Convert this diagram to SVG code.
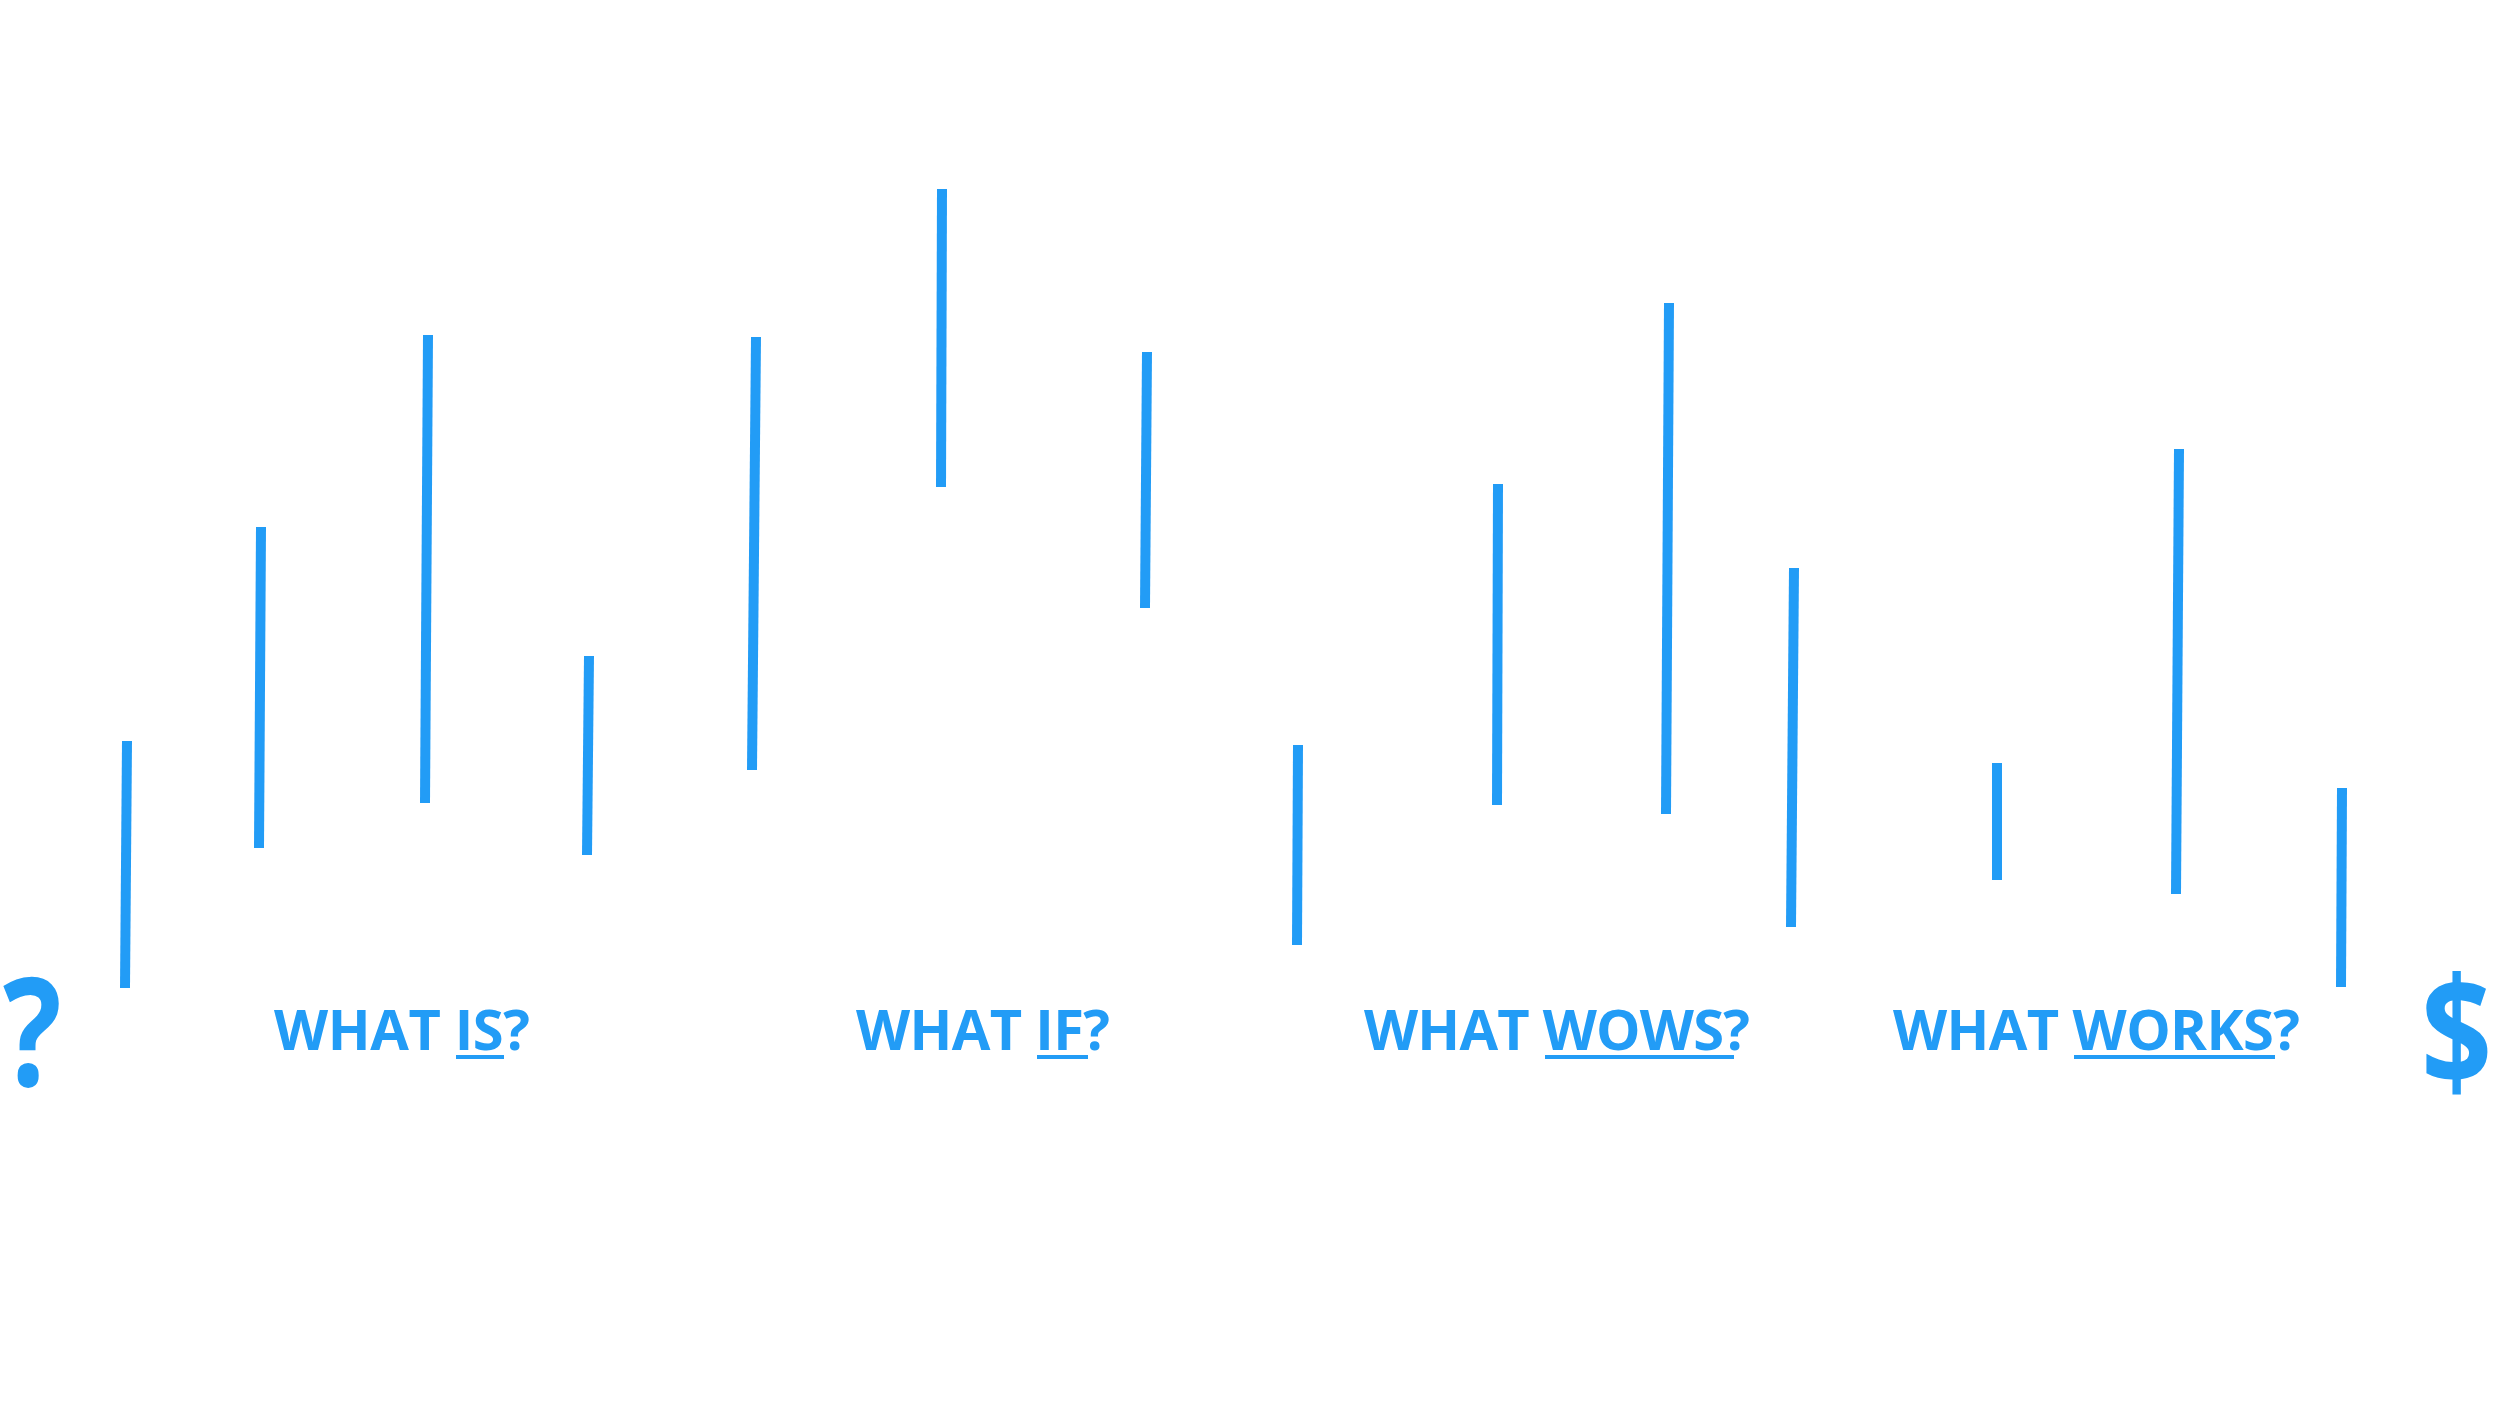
<svg xmlns="http://www.w3.org/2000/svg" width="2500" height="1418" viewBox="0 0 2500 1418">
<style>
.bar{stroke:#229CF6;stroke-width:10;stroke-linecap:butt;fill:none}
.lbl{font-family:"Open Sans","Liberation Sans",sans-serif;font-weight:700;font-size:56px;fill:#229CF6}
.big{font-family:"Open Sans","Liberation Sans",sans-serif;font-weight:700;font-size:150px;fill:#229CF6}
.ul{fill:#229CF6}
</style>
<rect width="2500" height="1418" fill="#FFFFFF"/>
<g id="bars">
<line class="bar" x1="127" y1="741" x2="125" y2="988"/>
<line class="bar" x1="261" y1="527" x2="259" y2="848"/>
<line class="bar" x1="428" y1="335" x2="425" y2="803"/>
<line class="bar" x1="589" y1="656" x2="587" y2="855"/>
<line class="bar" x1="756" y1="337" x2="752" y2="770"/>
<line class="bar" x1="942" y1="189" x2="941" y2="487"/>
<line class="bar" x1="1147" y1="352" x2="1145" y2="608"/>
<line class="bar" x1="1298" y1="745" x2="1297" y2="945"/>
<line class="bar" x1="1498" y1="484" x2="1497" y2="805"/>
<line class="bar" x1="1669" y1="303" x2="1666" y2="814"/>
<line class="bar" x1="1794" y1="568" x2="1791" y2="927"/>
<line class="bar" x1="1997" y1="763" x2="1997" y2="880"/>
<line class="bar" x1="2179" y1="449" x2="2176" y2="894"/>
<line class="bar" x1="2342" y1="788" x2="2341" y2="987"/>
</g>
<g id="question-mark"><text class="big" transform="translate(3,1086) scale(0.82,1)" x="0" y="0">?</text></g>
<g id="dollar"><text class="big" transform="translate(2421,1086) scale(0.83,1)" x="0" y="0">$</text></g>
<g id="what-is">
<text class="lbl" x="274" y="1050" textLength="256">WHAT IS?</text>
<rect class="ul" x="456" y="1055" width="48" height="4"/>
</g>
<g id="what-if">
<text class="lbl" x="856" y="1050" textLength="254">WHAT IF?</text>
<rect class="ul" x="1037" y="1055" width="51" height="4"/>
</g>
<g id="what-wows">
<text class="lbl" x="1364" y="1050" textLength="386">WHAT WOWS?</text>
<rect class="ul" x="1545" y="1055" width="189" height="4"/>
</g>
<g id="what-works">
<text class="lbl" x="1893" y="1050" textLength="407">WHAT WORKS?</text>
<rect class="ul" x="2074" y="1055" width="201" height="4"/>
</g>
</svg>
